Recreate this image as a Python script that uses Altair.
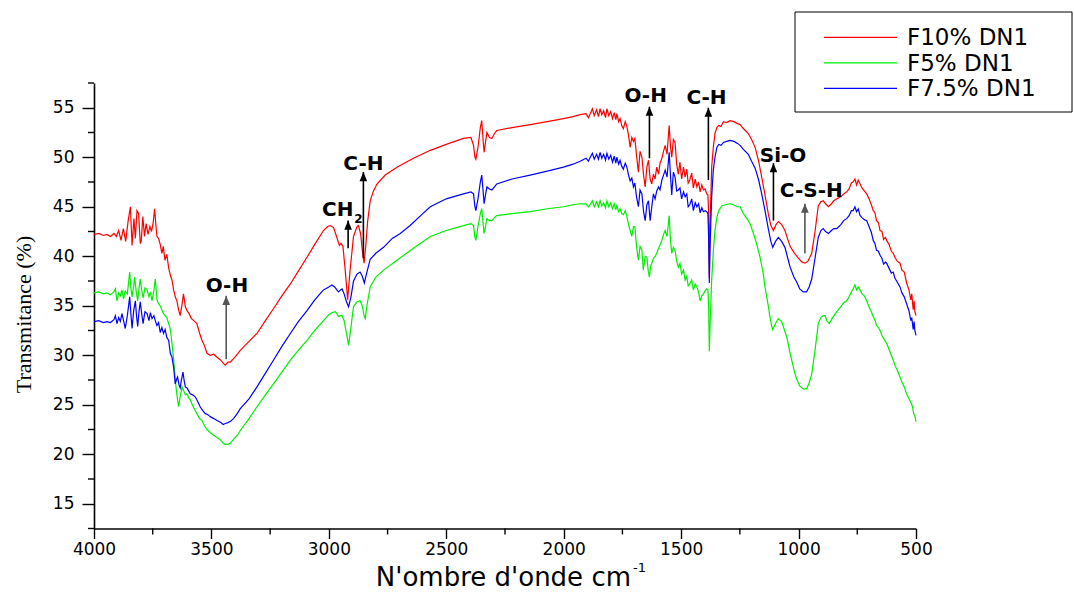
import altair as alt
import pandas as pd

# ---------------------------------------------------------------------------
# FTIR spectra (wavenumber in cm-1, transmittance in %)
# ---------------------------------------------------------------------------
f10_wn = [4000, 3980, 3960, 3945, 3930, 3915, 3905, 3895, 3885, 3875, 3865, 3855, 3845, 3838, 3830,
          3824, 3817, 3810, 3803, 3799, 3792, 3785, 3778, 3770, 3762, 3755, 3748, 3742, 3736, 3732,
          3725, 3718, 3711, 3705, 3698, 3690, 3682, 3675, 3668, 3661, 3654, 3647, 3640, 3633, 3626,
          3619, 3611, 3604, 3595, 3585, 3575, 3562, 3550, 3540, 3530, 3519, 3505, 3490, 3476, 3460,
          3450, 3441, 3430, 3420, 3400, 3377, 3340, 3306, 3270, 3236, 3200, 3164, 3130, 3093, 3060,
          3023, 3005, 2994, 2980, 2970, 2962, 2955, 2948, 2940, 2930, 2920, 2910, 2895, 2880, 2874,
          2865, 2857, 2850, 2843, 2835, 2824, 2810, 2795, 2760, 2710, 2640, 2568, 2500, 2427, 2395,
          2384, 2378, 2374, 2365, 2355, 2349, 2344, 2339, 2333, 2327, 2316, 2306, 2295, 2285, 2220,
          2143, 2070, 2001, 1960, 1930, 1905, 1895, 1887, 1878, 1870, 1860, 1852, 1845, 1838, 1830,
          1822, 1816, 1808, 1800, 1792, 1785, 1778, 1774, 1766, 1760, 1753, 1746, 1738, 1731, 1724,
          1717, 1710, 1703, 1697, 1690, 1682, 1675, 1667, 1660, 1653, 1646, 1639, 1632, 1625, 1618,
          1611, 1604, 1596, 1590, 1582, 1575, 1568, 1560, 1551, 1545, 1540, 1533, 1526, 1519, 1512,
          1505, 1498, 1490, 1483, 1476, 1470, 1463, 1455, 1448, 1440, 1433, 1426, 1419, 1412, 1405,
          1398, 1391, 1386, 1383, 1380, 1377, 1370, 1363, 1356, 1348, 1340, 1330, 1320, 1306, 1292,
          1275, 1260, 1249, 1235, 1214, 1200, 1185, 1170, 1157, 1143, 1129, 1118, 1107, 1096, 1086,
          1072, 1058, 1046, 1036, 1020, 1001, 985, 973, 960, 944, 930, 916, 905, 895, 885,
          873, 860, 850, 837, 820, 808, 795, 785, 775, 768, 760, 753, 746, 738, 730,
          720, 710, 700, 690, 682, 675, 668, 660, 653, 645, 638, 630, 625, 615, 605,
          597, 590, 580, 568, 560, 550, 540, 530, 522, 518, 512, 508, 505, 500]
f10_t = [42.2, 42.3, 42.1, 42.2, 42.0, 42.3, 42.0, 42.6, 41.6, 42.8, 41.5, 43.5, 45.0, 41.1, 43.8,
         41.8, 44.6, 44.3, 41.3, 41.5, 44.0, 42.0, 43.3, 42.2, 43.0, 42.5, 43.4, 44.8, 43.0, 42.0,
         41.8, 41.2, 40.3, 41.0, 39.6, 40.2, 38.8, 38.1, 37.6, 36.6, 35.9, 35.5, 34.6, 34.0, 35.0,
         36.2, 34.9, 34.5, 34.2, 33.7, 33.5, 33.2, 32.2, 31.5, 31.0, 30.2, 30.0, 30.1, 29.8, 29.5,
         29.2, 29.0, 29.3, 29.3, 29.8, 30.5, 31.4, 32.2, 33.5, 34.7, 36.0, 37.2, 38.5, 39.9, 41.2,
         42.6, 43.0, 43.1, 42.9, 42.2, 41.6, 41.1, 41.3, 41.0, 38.5, 35.6, 38.5, 42.0, 43.0, 43.1,
         42.3, 40.5, 39.3, 41.0, 43.5, 45.6, 46.6, 47.3, 48.2, 49.0, 49.9, 50.7, 51.3, 51.9, 52.0,
         51.2, 50.0, 49.8, 51.0, 53.0, 53.7, 52.0, 50.5, 51.5, 52.5, 52.0, 51.9, 52.4, 52.7, 53.0,
         53.3, 53.6, 53.9, 54.1, 54.3, 54.4, 54.0, 54.4, 54.9, 54.2, 54.8, 54.1, 54.9, 54.3, 54.7,
         54.0, 54.9, 54.2, 54.6, 53.9, 54.5, 53.8, 54.4, 53.6, 53.9, 53.2, 52.9, 53.6, 53.1, 52.2,
         51.0, 52.0, 51.6, 51.9, 50.2, 48.5, 50.6, 50.0, 48.2, 47.0, 49.0, 49.7, 47.8, 47.3, 48.3,
         47.8, 49.0, 48.3, 49.4, 49.9, 50.6, 51.2, 50.3, 53.2, 51.0, 50.0, 51.8, 51.5, 49.3, 48.3,
         49.5, 47.8, 49.0, 48.0, 48.8, 47.4, 47.7, 48.4, 46.9, 47.8, 47.0, 47.5, 46.5, 47.2, 46.7,
         46.8, 46.3, 46.2, 44.5, 37.8, 43.0, 49.0, 51.0, 52.4, 53.0, 53.2, 53.1, 53.6, 53.5, 53.7,
         53.6, 53.4, 53.3, 52.9, 52.4, 51.8, 51.0, 49.6, 48.0, 46.2, 44.3, 43.1, 42.6, 43.2, 43.5,
         43.2, 42.6, 41.7, 41.0, 40.4, 39.8, 39.4, 39.3, 39.5, 40.3, 42.5, 45.1, 45.5, 45.6, 45.3,
         45.0, 45.3, 45.6, 45.8, 46.0, 46.3, 46.5, 46.8, 47.4, 47.5, 47.8, 47.2, 47.7, 47.3, 46.9,
         46.6, 46.3, 45.8, 45.2, 44.6, 44.4, 43.6, 43.4, 42.6, 42.5, 41.7, 41.9, 41.6, 41.2, 40.5,
         40.3, 39.9, 39.5, 39.3, 38.6, 38.4, 37.3, 36.6, 35.6, 36.2, 34.6, 35.5, 34.4, 34.0]

f75_wn = [4000, 3980, 3960, 3945, 3930, 3915, 3909, 3902, 3895, 3888, 3881, 3874, 3867, 3858, 3848,
          3843, 3838, 3831, 3824, 3819, 3814, 3808, 3803, 3797, 3791, 3783, 3774, 3766, 3760, 3753,
          3745, 3739, 3732, 3725, 3718, 3711, 3704, 3697, 3690, 3682, 3675, 3668, 3661, 3654, 3648,
          3644, 3638, 3633, 3627, 3621, 3616, 3611, 3604, 3597, 3590, 3580, 3569, 3560, 3548, 3537,
          3526, 3515, 3505, 3490, 3476, 3460, 3450, 3441, 3430, 3420, 3406, 3390, 3377, 3340, 3306,
          3270, 3236, 3200, 3164, 3130, 3093, 3060, 3023, 3000, 2987, 2975, 2966, 2959, 2950, 2944,
          2935, 2925, 2916, 2905, 2895, 2880, 2867, 2858, 2849, 2840, 2824, 2800, 2767, 2730, 2696,
          2654, 2600, 2568, 2500, 2427, 2395, 2384, 2378, 2374, 2365, 2355, 2349, 2344, 2339, 2333,
          2327, 2316, 2306, 2295, 2285, 2220, 2143, 2070, 2001, 1960, 1930, 1905, 1895, 1887, 1878,
          1870, 1860, 1852, 1845, 1838, 1830, 1822, 1816, 1808, 1800, 1792, 1785, 1778, 1774, 1766,
          1760, 1753, 1746, 1738, 1731, 1724, 1717, 1710, 1703, 1697, 1690, 1682, 1675, 1667, 1660,
          1653, 1646, 1639, 1632, 1625, 1618, 1611, 1604, 1596, 1590, 1582, 1575, 1568, 1560, 1551,
          1545, 1540, 1533, 1526, 1519, 1512, 1505, 1498, 1490, 1483, 1476, 1470, 1463, 1455, 1448,
          1440, 1433, 1426, 1419, 1412, 1405, 1398, 1391, 1386, 1383, 1380, 1377, 1370, 1363, 1356,
          1348, 1340, 1330, 1320, 1306, 1292, 1275, 1260, 1249, 1235, 1214, 1200, 1185, 1170, 1157,
          1143, 1129, 1118, 1110, 1098, 1086, 1072, 1058, 1046, 1036, 1020, 1008, 995, 980, 966,
          955, 944, 930, 916, 905, 895, 885, 873, 860, 850, 837, 820, 808, 795, 785,
          775, 768, 760, 753, 746, 738, 730, 720, 710, 700, 690, 682, 675, 668, 660,
          653, 645, 638, 630, 625, 615, 605, 597, 590, 580, 568, 560, 550, 540, 530,
          522, 518, 512, 508, 505, 500]
f75_t = [33.4, 33.5, 33.3, 33.4, 33.3, 33.6, 34.0, 33.2, 33.8, 33.4, 34.2, 33.5, 32.7, 34.0, 35.9,
         34.2, 32.7, 34.5, 35.5, 34.0, 32.9, 34.5, 35.4, 34.2, 33.2, 34.4, 34.2, 33.5, 34.3, 33.7,
         34.0, 33.5, 33.0, 33.3, 32.3, 32.8, 32.2, 32.6, 31.8, 31.5, 30.2, 29.8, 28.8, 27.1, 27.6,
         27.8, 27.0, 26.7, 27.6, 28.3, 27.4, 26.8, 26.7, 26.4, 26.1, 26.0, 25.8, 25.4, 24.8, 24.4,
         24.1, 24.0, 23.8, 23.6, 23.4, 23.2, 23.0, 23.1, 23.2, 23.3, 23.6, 24.1, 24.6, 25.6, 26.8,
         28.2, 29.5, 30.9, 32.2, 33.4, 34.5, 35.6, 36.6, 36.9, 37.1, 36.9, 36.6, 36.4, 36.6, 36.7,
         36.2, 35.4, 34.9, 36.0, 37.5, 38.2, 38.4, 38.0, 37.3, 38.2, 39.7, 40.3, 40.9, 41.8, 42.3,
         43.1, 44.3, 45.0, 45.8, 46.3, 46.5, 46.3, 45.0, 44.6, 45.8, 47.5, 48.2, 46.8, 45.3, 46.2,
         47.0, 46.8, 46.7, 47.0, 47.3, 47.8, 48.2, 48.6, 49.0, 49.3, 49.6, 49.9, 49.6, 50.0, 50.4,
         49.8, 50.3, 49.8, 50.5, 49.9, 50.3, 49.7, 50.4, 49.8, 50.2, 49.5, 50.1, 49.4, 50.0, 49.3,
         49.7, 49.1, 48.8, 49.4, 49.0, 48.2, 47.6, 47.9, 47.0, 47.4, 46.0, 45.0, 46.7, 46.3, 44.5,
         43.6, 45.2, 45.6, 43.6, 45.0, 46.3, 45.8, 46.6, 47.0, 46.7, 47.7, 48.2, 48.7, 48.0, 50.5,
         48.0, 46.2, 48.5, 48.0, 46.6, 46.7, 46.9, 45.8, 46.5, 46.0, 46.3, 45.0, 45.2, 45.8, 44.6,
         45.4, 45.0, 45.3, 44.4, 44.9, 44.5, 44.6, 44.5, 44.3, 42.0, 37.3, 41.0, 46.0, 48.7, 50.0,
         51.0, 51.3, 51.2, 51.5, 51.6, 51.7, 51.6, 51.4, 51.2, 50.8, 50.3, 49.6, 48.9, 47.7, 46.3,
         44.6, 42.8, 41.5, 40.9, 41.5, 41.9, 41.5, 40.9, 39.8, 38.9, 37.9, 37.4, 36.7, 36.4, 36.4,
         36.9, 37.7, 39.8, 41.9, 42.6, 42.8, 42.5, 42.3, 42.6, 42.8, 42.8, 43.2, 43.6, 43.8, 44.1,
         44.6, 44.6, 45.0, 44.5, 44.8, 44.1, 43.9, 43.7, 43.6, 43.0, 42.4, 41.6, 41.3, 40.6, 40.5,
         40.1, 39.8, 39.2, 39.4, 39.3, 38.8, 38.3, 38.4, 37.8, 37.4, 36.9, 36.3, 35.9, 35.2, 34.5,
         33.5, 33.8, 32.6, 33.4, 32.5, 32.0]

f5_wn = [4000, 3980, 3960, 3945, 3930, 3915, 3909, 3902, 3895, 3888, 3881, 3874, 3867, 3858, 3848,
         3843, 3838, 3831, 3827, 3820, 3814, 3808, 3803, 3797, 3791, 3783, 3774, 3766, 3760, 3753,
         3745, 3739, 3732, 3725, 3718, 3711, 3704, 3697, 3690, 3682, 3675, 3668, 3661, 3654, 3647,
         3640, 3633, 3625, 3618, 3611, 3604, 3597, 3590, 3583, 3575, 3562, 3550, 3540, 3530, 3519,
         3505, 3490, 3476, 3460, 3450, 3441, 3430, 3420, 3406, 3390, 3377, 3340, 3306, 3270, 3236,
         3200, 3164, 3130, 3093, 3060, 3023, 3000, 2987, 2973, 2966, 2959, 2952, 2944, 2935, 2925,
         2916, 2905, 2895, 2880, 2867, 2858, 2849, 2845, 2838, 2824, 2800, 2767, 2710, 2640, 2568,
         2500, 2427, 2395, 2384, 2378, 2374, 2365, 2355, 2349, 2344, 2339, 2333, 2327, 2316, 2306,
         2295, 2285, 2220, 2143, 2070, 2001, 1960, 1930, 1905, 1895, 1887, 1878, 1870, 1860, 1852,
         1845, 1838, 1830, 1822, 1816, 1808, 1800, 1792, 1785, 1778, 1774, 1766, 1760, 1753, 1746,
         1738, 1731, 1724, 1717, 1710, 1703, 1697, 1690, 1682, 1675, 1667, 1661, 1653, 1646, 1640,
         1635, 1630, 1625, 1618, 1610, 1604, 1596, 1590, 1582, 1575, 1568, 1560, 1551, 1545, 1540,
         1533, 1526, 1519, 1512, 1505, 1498, 1490, 1483, 1476, 1470, 1463, 1455, 1448, 1440, 1433,
         1426, 1419, 1412, 1405, 1398, 1391, 1386, 1383, 1380, 1377, 1370, 1363, 1356, 1348, 1340,
         1327, 1310, 1292, 1278, 1260, 1249, 1235, 1214, 1207, 1192, 1178, 1164, 1150, 1143, 1129,
         1124, 1114, 1110, 1098, 1086, 1072, 1065, 1050, 1036, 1015, 1008, 995, 980, 966, 955,
         944, 930, 916, 905, 895, 887, 880, 869, 855, 837, 820, 808, 795, 785, 775,
         768, 760, 753, 746, 738, 730, 720, 710, 700, 690, 682, 675, 668, 660, 653,
         645, 638, 625, 615, 605, 597, 590, 580, 568, 560, 550, 540, 530, 519, 515,
         510, 505, 500]
f5_t = [36.3, 36.4, 36.2, 36.3, 36.1, 36.4, 36.7, 35.5, 36.3, 36.0, 36.6, 35.7, 36.5, 36.2, 38.4,
        36.8, 35.9, 37.0, 37.9, 36.4, 35.5, 36.8, 37.7, 36.6, 35.8, 36.8, 36.6, 35.9, 36.4, 35.5,
        36.5, 37.7, 35.6, 35.2, 35.0, 34.6, 34.2, 34.0, 33.8, 33.2, 32.6, 31.2, 29.6, 27.5, 26.0,
        24.8, 25.8, 26.8, 26.4, 26.0, 26.1, 25.7, 25.5, 25.1, 24.7, 24.1, 23.6, 23.4, 22.9, 22.5,
        22.2, 21.9, 21.7, 21.4, 21.1, 21.0, 21.0, 21.1, 21.5, 21.9, 22.4, 23.6, 24.8, 26.0, 27.1,
        28.3, 29.5, 30.5, 31.5, 32.5, 33.5, 34.1, 34.3, 34.4, 34.2, 33.9, 34.0, 34.0, 33.5, 32.2,
        31.0, 33.0, 34.9, 35.4, 35.5, 35.0, 33.9, 33.7, 35.0, 36.9, 37.9, 38.6, 39.6, 40.8, 42.0,
        42.6, 43.1, 43.3, 43.1, 41.9, 41.6, 43.0, 44.3, 44.8, 43.5, 42.3, 43.0, 43.8, 43.6, 43.6,
        43.9, 44.1, 44.3, 44.5, 44.8, 45.0, 45.2, 45.3, 45.3, 45.0, 45.2, 45.6, 45.0, 45.5, 45.0,
        45.6, 45.1, 45.4, 44.9, 45.6, 45.0, 45.4, 44.8, 45.3, 44.7, 45.1, 44.5, 44.8, 44.3, 44.2,
        44.6, 44.0, 43.2, 42.6, 42.0, 43.0, 43.0, 41.0, 39.6, 41.0, 40.6, 38.6, 40.0, 39.9, 38.5,
        37.9, 39.0, 39.3, 39.8, 40.0, 40.3, 40.8, 41.1, 41.6, 42.2, 42.6, 42.0, 44.1, 41.5, 40.3,
        40.9, 40.6, 39.5, 38.9, 39.3, 38.2, 38.6, 37.6, 38.0, 37.0, 37.2, 37.6, 36.6, 37.2, 36.9,
        36.4, 35.5, 36.0, 36.2, 36.5, 36.7, 36.6, 35.0, 30.4, 33.0, 37.6, 40.5, 42.6, 43.9, 44.6,
        45.1, 45.2, 45.3, 45.2, 45.0, 45.0, 44.3, 43.6, 43.3, 42.3, 41.2, 39.9, 38.2, 36.9, 35.0,
        34.2, 32.9, 32.6, 33.2, 33.7, 33.4, 32.9, 31.8, 30.2, 28.1, 27.6, 26.9, 26.6, 26.6, 27.2,
        28.1, 30.5, 33.2, 33.8, 34.0, 34.0, 33.5, 33.2, 33.8, 34.4, 34.9, 35.3, 35.5, 35.9, 36.4,
        36.7, 37.1, 36.6, 36.9, 36.6, 36.2, 36.0, 35.5, 34.9, 34.4, 33.9, 33.6, 33.0, 32.8, 32.5,
        32.0, 31.7, 31.2, 30.6, 30.0, 29.5, 29.0, 28.5, 27.8, 27.3, 26.8, 26.1, 25.6, 25.1, 24.8,
        24.1, 23.9, 23.3]

samples = ["F10% DN1", "F5% DN1", "F7.5% DN1"]
colors = ["#ff0000", "#00ee00", "#0000ff"]

# tick values
x_major = [500, 1000, 1500, 2000, 2500, 3000, 3500, 4000]
x_minor = [750, 1250, 1750, 2250, 2750, 3250, 3750]
y_major = [15, 20, 25, 30, 35, 40, 45, 50, 55]
y_minor = [12.5, 17.5, 22.5, 27.5, 32.5, 37.5, 42.5, 47.5, 52.5, 57.5]

# band assignments: label, label position, arrow wavenumber, arrow tail/head
band_labels = ["O-H", "C-H", "O-H", "C-H", "Si-O", "C-S-H"]
band_label_wn = [3434, 2853, 1651, 1392, 1066, 946]
band_label_t = [36.4, 48.7, 55.6, 55.35, 49.5, 46.0]
arrow_wn = [3437, 2853, 1635, 1384, 1107, 973]
arrow_tail = [29.6, 39.8, 49.9, 47.7, 43.6, 40.3]
arrow_head = [36.0, 48.5, 55.1, 55.0, 49.4, 45.3]
arrow_color = ["#555555", "#000000", "#000000", "#000000", "#000000", "#555555"]

# CH2 band (label drawn with a subscript)
ch2_wn = 2918
ch2_tail = 40.8
ch2_head = 43.6

rows = []
for name, wns, ts in [(samples[0], f10_wn, f10_t), (samples[1], f5_wn, f5_t), (samples[2], f75_wn, f75_t)]:
    for w, t in zip(wns, ts):
        rows.append({"wn": w, "T": t, "sample": name})
spectra = pd.DataFrame(rows)

arrows = pd.DataFrame({
    "wn": arrow_wn + [ch2_wn],
    "tail": arrow_tail + [ch2_tail],
    "head": arrow_head + [ch2_head],
    "c": arrow_color + ["#000000"],
})
labels = pd.DataFrame({"wn": band_label_wn, "t": band_label_t, "text": band_labels})

W, H = 822, 445.5
LEFT, TOP = 94, 83

x_scale = alt.Scale(domain=[500, 4000], reverse=True, nice=False, zero=False)
y_scale = alt.Scale(domain=[12.5, 57.5], nice=False, zero=False)
color_scale = alt.Scale(domain=samples, range=colors)

x_axis = alt.Axis(
    values=x_major, format="d", tickSize=10, labelPadding=3, labelFlush=False,
    labelFont="DejaVu Sans", labelFontSize=17, labelColor="#000",
    domainColor="#000", domainWidth=1.6, tickColor="#000", tickWidth=1.4,
    grid=False, title=None,
)
y_axis = alt.Axis(
    values=y_major, tickSize=12, labelPadding=8, labelFlush=False,
    labelFont="DejaVu Sans", labelFontSize=17, labelColor="#000",
    domainColor="#000", domainWidth=1.6, tickColor="#000", tickWidth=1.4,
    grid=False,
    title="Transmitance (%)", titleFont="Liberation Serif", titleFontSize=22,
    titleFontWeight="normal", titleColor="#000",
    titleX=-71, titleY=231, titleAngle=270, titleAlign="center", titleBaseline="middle",
)

base = alt.Chart(spectra)
lines = base.mark_line(strokeWidth=1.2).encode(
    x=alt.X("wn:Q", scale=x_scale, axis=x_axis),
    y=alt.Y("T:Q", scale=y_scale, axis=y_axis),
    color=alt.Color("sample:N", scale=color_scale, legend=None),
    detail="sample:N",
)

# minor ticks on both axes
y_minor_ticks = alt.Chart(pd.DataFrame({"T": y_minor})).mark_rule(
    color="#000", strokeWidth=1.4
).encode(
    y=alt.Y("T:Q", scale=y_scale),
    x=alt.value(-6), x2=alt.value(0),
)
x_minor_ticks = alt.Chart(pd.DataFrame({"wn": x_minor})).mark_rule(
    color="#000", strokeWidth=1.4
).encode(
    x=alt.X("wn:Q", scale=x_scale),
    y=alt.value(H), y2=alt.value(H + 6),
)

arrow_shaft = alt.Chart(arrows).mark_rule(strokeWidth=1.6).encode(
    x=alt.X("wn:Q", scale=x_scale),
    y=alt.Y("tail:Q", scale=y_scale),
    y2="head:Q",
    color=alt.Color("c:N", scale=None),
)
arrow_tip = alt.Chart(arrows).mark_point(
    shape="M0,0 L-0.42,1 L0.42,1 Z", filled=True, size=330, opacity=1
).encode(
    x=alt.X("wn:Q", scale=x_scale),
    y=alt.Y("head:Q", scale=y_scale),
    color=alt.Color("c:N", scale=None),
)
band_text = alt.Chart(labels).mark_text(
    font="DejaVu Sans", fontSize=20, fontWeight="bold", color="#000",
    align="center", baseline="alphabetic",
).encode(
    x=alt.X("wn:Q", scale=x_scale),
    y=alt.Y("t:Q", scale=y_scale),
    text="text:N",
)
ch2 = pd.DataFrame({"wn": [2895, 2892], "t": [44.1, 43.4], "text": ["CH", "2"]})
ch_text = alt.Chart(ch2).transform_filter("datum.text == 'CH'").mark_text(
    font="DejaVu Sans", fontSize=20, fontWeight="bold", color="#000",
    align="right", baseline="alphabetic",
).encode(x=alt.X("wn:Q", scale=x_scale), y=alt.Y("t:Q", scale=y_scale), text="text:N")
sub_text = alt.Chart(ch2).transform_filter("datum.text == '2'").mark_text(
    font="DejaVu Sans", fontSize=12, fontWeight="bold", color="#000",
    align="left", baseline="alphabetic",
).encode(x=alt.X("wn:Q", scale=x_scale), y=alt.Y("t:Q", scale=y_scale), text="text:N")

# x-axis title with superscript unit exponent
one = pd.DataFrame({"k": [0]})
x_title = alt.Chart(one).mark_text(
    font="DejaVu Sans", fontSize=26, color="#000", align="right", baseline="alphabetic",
    text="N'ombre d'onde cm",
).encode(x=alt.value(537), y=alt.value(503))
x_title_sup = alt.Chart(one).mark_text(
    font="DejaVu Sans", fontSize=13, color="#000", align="left", baseline="alphabetic",
    text="-1",
).encode(x=alt.value(539), y=alt.value(489))

# legend box
legend_box = alt.Chart(one).mark_rect(fill=None, stroke="#000", strokeWidth=1).encode(
    x=alt.value(701), x2=alt.value(978), y=alt.value(-71), y2=alt.value(29)
)
legend_df = pd.DataFrame({"sample": samples, "order": [0, 1, 2]})
legend_base = alt.Chart(legend_df).transform_calculate(ly="-45.7 + datum.order * 25.5")
legend_lines = legend_base.mark_rule(strokeWidth=1.3).encode(
    x=alt.value(730), x2=alt.value(803),
    y=alt.Y("ly:Q", scale=None),
    color=alt.Color("sample:N", scale=color_scale, legend=None),
)
legend_text = legend_base.mark_text(
    font="DejaVu Sans", fontSize=23, color="#000", align="left", baseline="middle", dy=1,
).encode(
    x=alt.value(813),
    y=alt.Y("ly:Q", scale=None),
    text="sample:N",
)

chart = alt.layer(
    lines, y_minor_ticks, x_minor_ticks, arrow_shaft, arrow_tip, band_text, ch_text, sub_text,
    x_title, x_title_sup, legend_box, legend_lines, legend_text,
).properties(
    width=W, height=H,
    autosize=alt.AutoSizeParams(type="none"),
    padding={"left": LEFT, "top": TOP, "right": 1074 - LEFT - W, "bottom": 596 - TOP - H},
).configure(
    background="white", view=alt.ViewConfig(stroke=None)
)

chart.save("out.html", embed_options={"renderer": "svg", "actions": False})
